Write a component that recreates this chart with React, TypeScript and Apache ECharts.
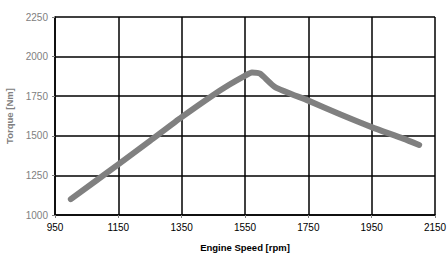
import React, { useEffect, useRef } from "react";
import * as echarts from "echarts";

const rpm = [1000, 1150, 1250, 1350, 1450, 1500, 1545, 1572, 1597, 1645, 1750, 1850, 1950, 2050, 2100];
const torque = [1100, 1320, 1468, 1618, 1758, 1822, 1874, 1900, 1893, 1808, 1722, 1636, 1555, 1482, 1442];

export default function App() {
  const ref = useRef<HTMLDivElement>(null);
  useEffect(() => {
    const chart = echarts.init(ref.current!, null, { renderer: "svg" });
    chart.setOption({
      animation: false,
      grid: { left: 55, right: 13, top: 17, bottom: 38, containLabel: false, outerBoundsMode: "none" },
      xAxis: {
        type: "value",
        min: 950,
        max: 2150,
        interval: 200,
        name: "Engine Speed [rpm]",
        nameLocation: "middle",
        nameGap: 27,
        nameTextStyle: { fontFamily: "Liberation Sans", fontSize: 9.5, fontWeight: "bold", color: "#000", lineHeight: 10 },
        axisLine: { show: true, lineStyle: { color: "#000", width: 1.5 } },
        axisTick: { show: true, length: 3, lineStyle: { color: "#808080" } },
        axisLabel: { fontFamily: "Liberation Sans", fontSize: 10, color: "#000", margin: 7, formatter: (v: number) => String(v) },
        splitLine: { show: true, lineStyle: { color: "#000", width: 1.5 } },
      },
      yAxis: {
        type: "value",
        min: 1000,
        max: 2250,
        interval: 250,
        name: "Torque [Nm]",
        nameLocation: "middle",
        nameGap: 39,
        nameTextStyle: { fontFamily: "Liberation Sans", fontSize: 9.5, fontWeight: "bold", color: "#808080" },
        axisLine: { show: true, lineStyle: { color: "#000", width: 1.5 } },
        axisTick: { show: true, length: 3, lineStyle: { color: "#808080" } },
        axisLabel: { fontFamily: "Liberation Sans", fontSize: 10, color: "#808080", margin: 7, formatter: (v: number) => String(v) },
        splitLine: { show: true, lineStyle: { color: "#000", width: 1.5 } },
      },
      series: [
        {
          type: "line",
          data: rpm.map((r, i) => [r, torque[i]]),
          showSymbol: false,
          smooth: 0.2,
          lineStyle: { color: "#808080", width: 6, cap: "round", join: "round" },
        },
      ],
    });
    return () => chart.dispose();
  }, []);
  return <div ref={ref} style={{ width: 448, height: 253, position: "absolute", left: 0, top: 0 }} />;
}
